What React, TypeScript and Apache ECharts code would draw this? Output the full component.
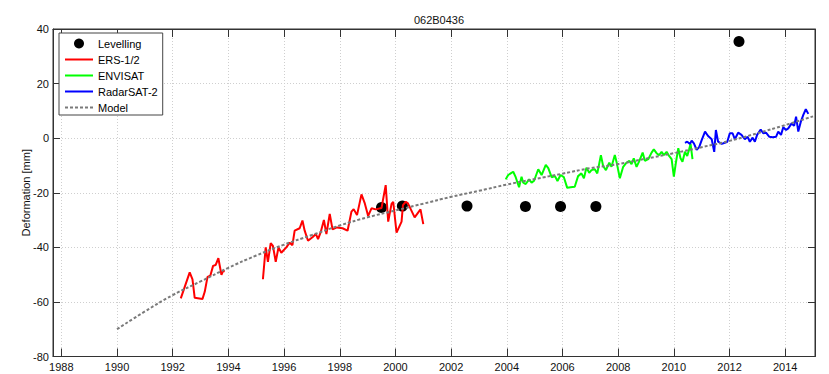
import React, { useEffect, useRef } from "react";
import * as echarts from "echarts";

const TITLE = "062B0436";
const Y_NAME = "Deformation [mm]";
const X_TICKS = [1988, 1990, 1992, 1994, 1996, 1998, 2000, 2002, 2004, 2006, 2008, 2010, 2012, 2014];

const levelling: [number, number][] = [
  [1999.5, -25.4], [2000.25, -24.9], [2002.57, -24.9], [2004.67, -25.0],
  [2005.93, -25.0], [2007.2, -25.0], [2012.34, 35.4],
];

const ers1: [number, number][] = [
  [1992.29, -58.7], [1992.61, -49.2], [1992.71, -51.7], [1992.79, -58.5], [1993.07, -58.9],
  [1993.15, -56.3], [1993.25, -50.8], [1993.35, -50.4], [1993.45, -46.8], [1993.54, -46.5],
  [1993.64, -44.0], [1993.75, -50.1], [1993.81, -48.6], [1993.87, -48.8],
];

const ers2: [number, number][] = [
  [1995.24, -51.7], [1995.34, -40.0], [1995.42, -45.3], [1995.52, -38.5], [1995.6, -39.5],
  [1995.7, -45.3], [1995.8, -40.0], [1995.9, -42.0], [1996.08, -40.0], [1996.2, -38.3],
  [1996.3, -39.2], [1996.38, -33.9], [1996.56, -33.0], [1996.66, -30.2], [1996.74, -33.9],
  [1996.86, -37.6], [1997.04, -36.1], [1997.14, -35.1], [1997.22, -37.0], [1997.32, -34.3],
  [1997.43, -30.0], [1997.52, -35.1], [1997.64, -27.8], [1997.74, -33.4], [1997.9, -32.7],
  [1998.1, -33.0], [1998.28, -33.9], [1998.42, -26.9], [1998.5, -26.0], [1998.62, -28.2],
  [1998.78, -20.6], [1998.9, -23.9], [1999.02, -28.5], [1999.14, -25.7], [1999.29, -26.1],
  [1999.5, -25.6], [1999.65, -17.2], [1999.74, -30.6], [1999.86, -24.1], [1999.92, -23.3],
  [2000.04, -34.6], [2000.22, -30.6], [2000.27, -24.5], [2000.37, -23.3], [2000.45, -23.9],
  [2000.69, -29.0], [2000.9, -26.1], [2001.0, -31.5],
];

const envisat: [number, number][] = [
  [2003.96, -15.1], [2004.05, -13.5], [2004.14, -12.9], [2004.23, -12.3], [2004.32, -14.3],
  [2004.44, -18.0], [2004.53, -14.1], [2004.59, -16.3], [2004.68, -16.8], [2004.8, -15.1],
  [2004.89, -16.3], [2004.98, -15.6], [2005.13, -11.4], [2005.25, -13.5], [2005.4, -9.8],
  [2005.49, -11.0], [2005.61, -14.3], [2005.73, -13.9], [2005.82, -15.7], [2005.93, -13.5],
  [2006.05, -14.3], [2006.17, -18.2], [2006.29, -18.0], [2006.44, -17.8], [2006.56, -13.9],
  [2006.68, -12.9], [2006.77, -14.7], [2006.86, -10.8], [2006.96, -12.7], [2007.04, -11.7],
  [2007.16, -11.4], [2007.25, -12.9], [2007.38, -6.2], [2007.46, -10.2], [2007.56, -11.7],
  [2007.68, -9.0], [2007.76, -10.5], [2007.88, -6.2], [2007.94, -8.6], [2008.06, -14.7],
  [2008.18, -10.5], [2008.3, -9.0], [2008.4, -8.3], [2008.48, -9.5], [2008.56, -7.4],
  [2008.66, -10.5], [2008.75, -8.6], [2008.88, -5.3], [2008.96, -8.3], [2009.08, -7.7],
  [2009.2, -5.3], [2009.28, -4.1], [2009.38, -5.5], [2009.47, -6.2], [2009.56, -5.0],
  [2009.64, -6.2], [2009.74, -5.0], [2009.83, -6.5], [2009.92, -7.7], [2010.0, -14.1],
  [2010.07, -9.2], [2010.16, -3.7], [2010.24, -7.4], [2010.31, -8.6], [2010.4, -5.0],
  [2010.48, -6.5], [2010.55, -4.1], [2010.6, -2.1], [2010.67, -7.7],
];

const radarsat: [number, number][] = [
  [2010.4, -1.7], [2010.48, -1.3], [2010.58, -2.1], [2010.64, -0.9], [2010.72, -1.9],
  [2010.82, -4.3], [2010.91, -3.3], [2011.0, -0.7], [2011.12, 2.4], [2011.23, 0.8],
  [2011.36, -0.4], [2011.45, -5.0], [2011.51, 3.0], [2011.59, -1.3], [2011.72, -2.1],
  [2011.83, -1.7], [2011.92, -1.3], [2012.01, 1.8], [2012.11, 1.8], [2012.19, -0.4],
  [2012.31, 2.0], [2012.43, 1.2], [2012.55, -0.4], [2012.65, 0.5], [2012.73, -1.3],
  [2012.83, 0.2], [2012.91, -1.3], [2012.99, 1.2], [2013.12, 3.2], [2013.21, 1.8],
  [2013.31, 2.0], [2013.43, 0.5], [2013.55, 0.3], [2013.67, 0.5], [2013.75, 2.4],
  [2013.85, 1.2], [2013.93, 4.0], [2014.03, 3.0], [2014.11, 3.6], [2014.23, 5.4],
  [2014.32, 4.5], [2014.39, 7.9], [2014.47, 2.4], [2014.56, 6.0], [2014.65, 8.5],
  [2014.74, 10.6], [2014.83, 8.9],
];

const model: [number, number][] = [
  [1990, -70], [1991, -63.5], [1992, -57.5], [1993, -52.5], [1994, -47.5], [1995, -43],
  [1996, -39], [1997, -35.5], [1998, -32], [1999, -29], [2000, -26.5], [2001, -24],
  [2002, -21.5], [2003, -19.3], [2004, -17], [2005, -15], [2006, -13], [2007, -11],
  [2008, -9.5], [2009, -7.5], [2010, -5.5], [2011, -3.3], [2012, -1], [2013, 1.8],
  [2014, 4.8], [2015, 8],
];

const FONT = "'Liberation Sans', Arial, Helvetica, sans-serif";

export default function App() {
  const ref = useRef<HTMLDivElement>(null);
  useEffect(() => {
    if (!ref.current) return;
    const chart = echarts.init(ref.current, undefined, { renderer: "svg" });
    const xMin = 1987.7;
    const xMax = 2015.07;
    const lineBase = { type: "line", showSymbol: false, symbol: "none", animation: false };
    const hideSym = { opacity: 0 };
    const gridLine = { show: true, lineStyle: { type: [1, 2], color: "#cfcfcf", width: 1 } };
    chart.setOption({
      animation: false,
      backgroundColor: "#fff",
      textStyle: { fontFamily: FONT },
      title: {
        text: TITLE,
        left: 434,
        top: 9,
        textAlign: "center",
        textStyle: { fontSize: 11, fontWeight: "normal", color: "#111", fontFamily: FONT },
      },
      grid: {
        left: 53,
        right: 14,
        top: 29,
        bottom: 17.5,
        show: true,
        borderColor: "#333",
        borderWidth: 1,
        backgroundColor: "transparent",
      },
      legend: {
        orient: "vertical",
        left: 59,
        top: 33,
        itemWidth: 28,
        itemHeight: 10,
        itemGap: 5,
        padding: [5, 5, 2, 5],
        borderColor: "#444",
        borderWidth: 1,
        backgroundColor: "#fff",
        textStyle: { fontSize: 11, color: "#000", fontFamily: FONT },
        data: [
          { name: "Levelling", icon: "circle", itemStyle: { color: "#000", opacity: 1 } },
          { name: "ERS-1/2", itemStyle: hideSym },
          { name: "ENVISAT", itemStyle: hideSym },
          { name: "RadarSAT-2", itemStyle: hideSym },
          { name: "Model", itemStyle: hideSym },
        ],
      },
      xAxis: [
        {
          type: "value",
          min: xMin,
          max: xMax,
          splitNumber: 14,
          axisLine: { show: true, onZero: false, lineStyle: { color: "#333" } },
          axisTick: { show: true, inside: true, length: 8, customValues: X_TICKS, lineStyle: { color: "#333" } },
          axisLabel: {
            customValues: X_TICKS,
            fontSize: 11,
            color: "#111",
            margin: 5,
            fontFamily: FONT,
            formatter: (v: number) => String(Math.round(v)),
          },
          splitLine: gridLine,
        },
        {
          type: "value",
          position: "top",
          min: xMin,
          max: xMax,
          splitNumber: 14,
          axisLine: { show: true, onZero: false, lineStyle: { color: "#333" } },
          axisTick: { show: true, inside: true, length: 8, customValues: X_TICKS, lineStyle: { color: "#333" } },
          axisLabel: { show: false },
          splitLine: { show: false },
        },
      ],
      yAxis: [
        {
          type: "value",
          min: -80,
          max: 40,
          interval: 20,
          name: Y_NAME,
          nameLocation: "middle",
          nameGap: 22,
          nameMoveOverlap: false,
          nameTextStyle: { fontSize: 11, color: "#111", fontFamily: FONT },
          axisLine: { show: true, onZero: false, lineStyle: { color: "#333" } },
          axisTick: { show: true, inside: true, length: 7, lineStyle: { color: "#333" } },
          axisLabel: { fontSize: 11, color: "#111", margin: 4, fontFamily: FONT },
          splitLine: gridLine,
        },
        {
          type: "value",
          position: "right",
          min: -80,
          max: 40,
          interval: 20,
          axisLine: { show: true, onZero: false, lineStyle: { color: "#333" } },
          axisTick: { show: true, inside: true, length: 7, lineStyle: { color: "#333" } },
          axisLabel: { show: false },
          splitLine: { show: false },
        },
      ],
      series: [
        {
          name: "Levelling",
          type: "scatter",
          data: levelling,
          symbol: "circle",
          symbolSize: 11,
          itemStyle: { color: "#000", opacity: 1 },
          z: 2,
        },
        { ...lineBase, name: "ERS-1/2", data: ers1, lineStyle: { color: "#ff0000", width: 2 }, itemStyle: { color: "#ff0000" }, z: 3 },
        { ...lineBase, name: "ERS-1/2", data: ers2, lineStyle: { color: "#ff0000", width: 2 }, itemStyle: { color: "#ff0000" }, z: 3 },
        { ...lineBase, name: "ENVISAT", data: envisat, lineStyle: { color: "#00ff00", width: 2 }, itemStyle: { color: "#00ff00" }, z: 3 },
        { ...lineBase, name: "RadarSAT-2", data: radarsat, lineStyle: { color: "#0000ff", width: 2 }, itemStyle: { color: "#0000ff" }, z: 3 },
        {
          ...lineBase,
          name: "Model",
          data: model,
          smooth: true,
          lineStyle: { color: "#7a7a7a", width: 2, type: [3, 2] },
          itemStyle: { color: "#7a7a7a" },
          z: 4,
        },
      ],
    });
    return () => chart.dispose();
  }, []);
  return (
    <div
      ref={ref}
      style={{ position: "fixed", left: 0, top: 0, width: 829, height: 374 }}
    />
  );
}
